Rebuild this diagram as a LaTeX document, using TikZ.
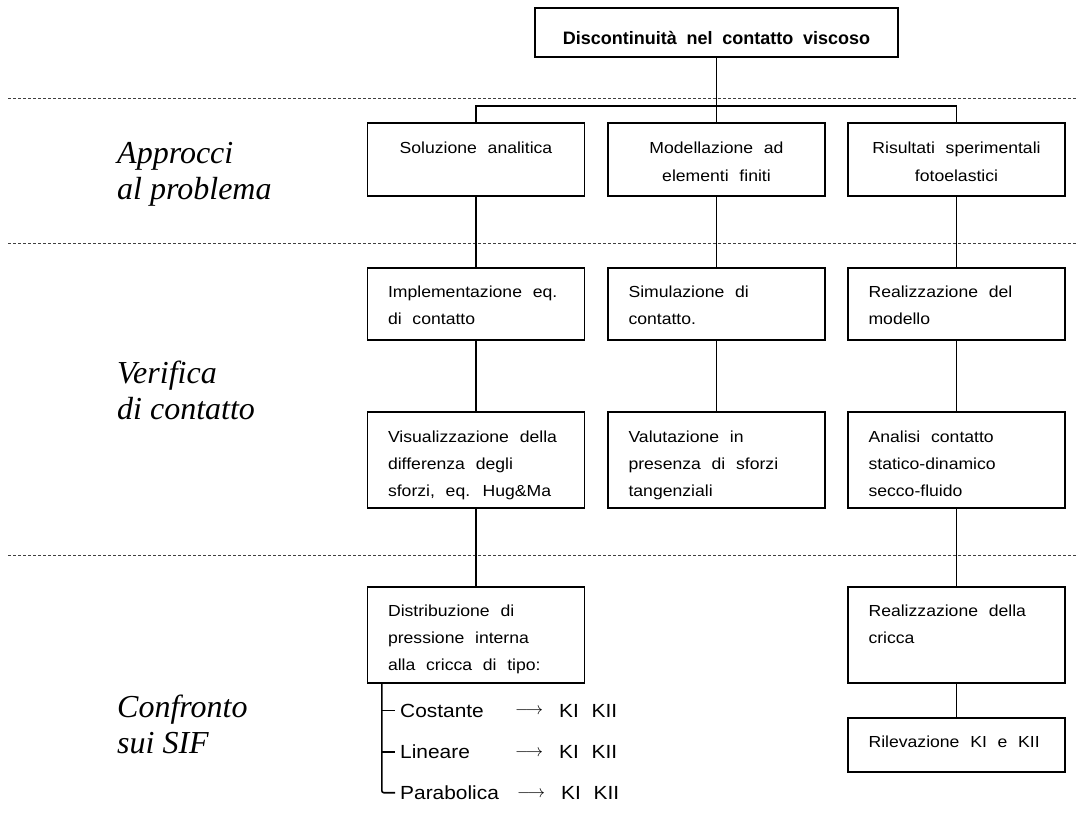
\documentclass[tikz,border=0pt]{standalone}
\usepackage{fontspec}
\setmainfont{Liberation Sans}[FakeStretch=1.1,WordSpace=2.2]
\newfontfamily\topfont{Liberation Sans}[WordSpace=1.95]
\newfontfamily\labfont{Liberation Serif}
\usetikzlibrary{calc}
\begin{document}
\begin{tikzpicture}[x=1pt,y=-1pt,
  box/.style={draw=black,line width=1.3pt,rectangle,inner sep=0pt,minimum width=217pt},
  btxt/.style={inner sep=0pt,anchor=north west,align=left,font=\fontsize{16}{27}\selectfont},
  ctxt/.style={inner sep=0pt,anchor=north,align=center,font=\fontsize{16}{28}\selectfont},
  conn/.style={line width=1.8pt},
  treeline/.style={line width=1.6pt},
  sepline/.style={draw=black!75,line width=0.9pt,dash pattern=on 3pt off 2pt},
  lab/.style={inner sep=0pt,anchor=base west,font=\labfont\itshape\fontsize{32}{36}\selectfont},
  treetxt/.style={inner sep=0pt,anchor=base west,font=\fontsize{19}{22}\selectfont},
  arr/.style={inner sep=0pt,anchor=base west,font=\fontsize{17.5}{20}\selectfont},
]
\useasboundingbox (0,0) rectangle (1077,827);

% separators
\coordinate (s1l) at (8,98.5);  \coordinate (s1r) at (1077,98.5);
\coordinate (s2l) at (8,243.5); \coordinate (s2r) at (1077,243.5);
\coordinate (s3l) at (8,555);   \coordinate (s3r) at (1077,555);
\draw[sepline] (s1l) -- (s1r);
\draw[sepline] (s2l) -- (s2r);
\draw[sepline] (s3l) -- (s3r);

% left labels
\node[lab] (L1a) at (117,163) {Approcci};
\node[lab] (L1b) at (117,199) {al problema};
\node[lab] (L2a) at (117,383) {Verifica};
\node[lab] (L2b) at (117,419) {di contatto};
\node[lab] (L3a) at (117,717) {Confronto};
\node[lab] (L3b) at (117,753) {sui SIF};

% top box
\node[box,minimum width=363pt,minimum height=49pt] (top) at (716.5,32.5) {};
\node[inner sep=0pt,anchor=base,font=\topfont\bfseries\fontsize{18}{20}\selectfont] (ttop) at (716.5,45) {Discontinuità nel contatto viscoso};

% row 1
\node[box,minimum height=73pt] (A1) at (476,159.5) {};
\node[box,minimum height=73pt] (B1) at (716.5,159.5) {};
\node[box,minimum height=73pt] (C1) at (956.5,159.5) {};
\node[ctxt] (tA1) at ($(A1.north)+(0,11)$) {\strut Soluzione analitica};
\node[ctxt] (tB1) at ($(B1.north)+(0,11)$) {\strut Modellazione ad\\elementi finiti};
\node[ctxt] (tC1) at ($(C1.north)+(0,11)$) {\strut Risultati sperimentali\\fotoelastici};

% row 2
\node[box,minimum height=72pt] (A2) at (476,304) {};
\node[box,minimum height=72pt] (B2) at (716.5,304) {};
\node[box,minimum height=72pt] (C2) at (956.5,304) {};
\node[btxt] (tA2) at ($(A2.north west)+(21,11)$) {\strut Implementazione eq.\\di contatto};
\node[btxt] (tB2) at ($(B2.north west)+(21,11)$) {\strut Simulazione di\\contatto.};
\node[btxt] (tC2) at ($(C2.north west)+(21,11)$) {\strut Realizzazione del\\modello};

% row 3
\node[box,minimum height=96pt] (A3) at (476,460) {};
\node[box,minimum height=96pt] (B3) at (716.5,460) {};
\node[box,minimum height=96pt] (C3) at (956.5,460) {};
\node[btxt] (tA3) at ($(A3.north west)+(21,12.5)$) {\strut Visualizzazione della\\differenza degli\\sforzi, eq. Hug\&Ma};
\node[btxt] (tB3) at ($(B3.north west)+(21,12.5)$) {\strut Valutazione in\\presenza di sforzi\\tangenziali};
\node[btxt] (tC3) at ($(C3.north west)+(21,12.5)$) {\strut Analisi contatto\\statico-dinamico\\secco-fluido};

% row 4
\node[box,minimum height=96pt] (A4) at (476,635) {};
\node[box,minimum height=96pt] (C4) at (956.5,635) {};
\node[btxt] (tA4) at ($(A4.north west)+(21,11.5)$) {\strut Distribuzione di\\pressione interna\\alla cricca di tipo:};
\node[btxt] (tC4) at ($(C4.north west)+(21,11.5)$) {\strut Realizzazione della\\cricca};

% row 5
\node[box,minimum height=54pt] (C5) at (956.5,745) {};
\node[btxt] (tC5) at ($(C5.north west)+(21,11.5)$) {\strut Rilevazione KI e KII};

% connectors
\coordinate (bus) at (716.5,106);
\draw[conn] (top.south) -- (B1.north);
\draw[conn] (A1.north) -- (A1.north |- bus) -- (C1.north |- bus) -- (C1.north);
\draw[conn] (A1.south) -- (A2.north);
\draw[conn] (B1.south) -- (B2.north);
\draw[conn] (C1.south) -- (C2.north);
\draw[conn] (A2.south) -- (A3.north);
\draw[conn] (B2.south) -- (B3.north);
\draw[conn] (C2.south) -- (C3.north);
\draw[conn] (A3.south) -- (A4.north);
\draw[conn] (C3.south) -- (C4.north);
\draw[conn] (C4.south) -- (C5.north);

% tree
\node[treetxt] (l1) at (400,717) {Costante};
\node[treetxt] (l2) at (400,758.5) {Lineare};
\node[treetxt] (l3) at (400,799.5) {Parabolica};
\node[arr] (a1) at (515,717) {\raisebox{2.4pt}{$\longrightarrow$}};
\node[arr] (a2) at (515,758.5) {\raisebox{2.4pt}{$\longrightarrow$}};
\node[arr] (a3) at (517,799.5) {\raisebox{2.4pt}{$\longrightarrow$}};
\node[treetxt] (k1) at (559,717) {KI KII};
\node[treetxt] (k2) at (559,758.5) {KI KII};
\node[treetxt] (k3) at (561,799.5) {KI KII};
\coordinate (tst) at ($(A4.south west)+(15,0)$);
\draw[treeline,rounded corners=2pt] (tst) |- ([xshift=-5pt]l3.west);
\draw[treeline] (tst |- l1.west) -- ([xshift=-5pt]l1.west);
\draw[treeline] (tst |- l2.west) -- ([xshift=-5pt]l2.west);
\end{tikzpicture}
\end{document}
